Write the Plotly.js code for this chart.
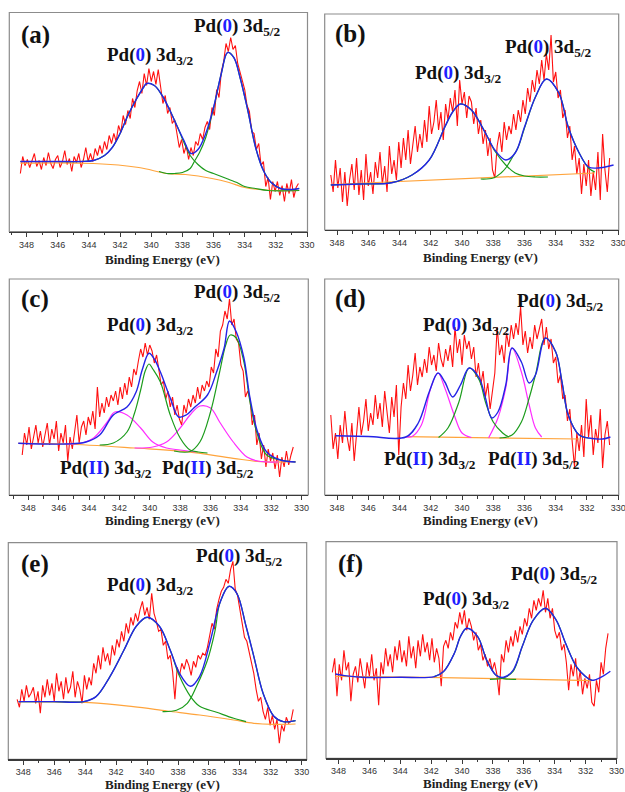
<!DOCTYPE html>
<html>
<head>
<meta charset="utf-8">
<script src="https://cdn.plot.ly/plotly-3.0.1.min.js"></script>
<style>html,body{margin:0;padding:0;background:#fff}#chart{width:625px;height:792px}</style>
</head>
<body>
<div id="chart"></div>
<script>
// ---- shared binding-energy grid of the measured spectra (eV) ----
const energy = [348.40,348.25,348.10,347.95,347.80,347.65,347.50,347.35,347.20,347.05,
346.90,346.75,346.60,346.45,346.30,346.15,346.00,345.85,345.70,345.55,
345.40,345.25,345.10,344.95,344.80,344.65,344.50,344.35,344.20,344.05,
343.90,343.75,343.60,343.45,343.30,343.15,343.00,342.85,342.70,342.55,
342.40,342.25,342.10,341.95,341.80,341.65,341.50,341.35,341.20,341.05,
340.90,340.75,340.60,340.45,340.30,340.15,340.00,339.85,339.70,339.55,
339.40,339.25,339.10,338.95,338.80,338.65,338.50,338.35,338.20,338.05,
337.90,337.75,337.60,337.45,337.30,337.15,337.00,336.85,336.70,336.55,
336.40,336.25,336.10,335.95,335.80,335.65,335.50,335.35,335.20,335.05,
334.90,334.75,334.60,334.45,334.30,334.15,334.00,333.85,333.70,333.55,
333.40,333.25,333.10,332.95,332.80,332.65,332.50,332.35,332.20,332.05,
331.90,331.75,331.60,331.45,331.30,331.15,331.00,330.85,330.70,330.55];

// ---- measured intensities (arb. units) ----
const aCounts = [58,75,66,72,64,70,78,65,71,62, 74,66,79,68,63,72,76,64,70,81, 67,73,60,75,69,78,64,72,84,70,
78,70,83,76,86,78,90,82,96,88, 98,90,106,99,116,107,121,113,133,124, 141,150,138,158,146,163,150,160,147,162,
142,128,136,118,124,108,112,96,84,92, 78,86,72,84,76,90,86,98,92,104, 110,102,124,116,142,134,160,170,188,180,
194,182,186,168,160,150,142,126,120,100, 98,82,88,66,70,45,54,32,50,40, 50,36,46,30,48,38,52,34,44,48];
const bCounts = [55,38,70,42,62,28,58,24,50,66, 40,72,35,60,30,76,44,58,36,68, 52,78,46,64,38,84,56,70,50,88,
62,92,70,100,66,86,104,78,96,82, 110,88,124,96,108,130,100,118,90,126, 110,132,118,140,104,150,126,138,112,134,
128,106,122,96,110,86,100,74,92,60, 52,84,98,78,108,90,104,96,116,100, 120,108,130,116,142,128,150,138,160,146,
170,150,176,160,195,148,158,132,140,112, 120,92,104,70,84,56,72,36,66,44, 70,34,58,40,78,30,96,60,38,72];
const cCounts = [40,62,50,68,46,58,70,52,64,48, 60,72,50,66,56,74,44,62,52,70, 34,58,46,66,80,52,68,74,60,78,
70,84,66,108,78,92,82,98,88,100, 94,104,90,108,96,112,100,118,108,126, 120,134,146,138,152,140,150,144,132,140,
124,110,114,96,104,88,98,80,90,76, 70,90,82,96,88,100,92,108,96,110, 104,114,108,128,122,146,138,164,170,184,
176,196,170,176,156,152,130,124,98,104, 96,70,80,50,62,36,50,28,46,34, 42,26,40,18,38,28,44,30,40,48];
const dCounts = [80,46,62,36,70,52,84,58,44,72, 34,66,88,60,74,96,64,82,70,100, 76,92,68,104,84,62,98,78,110,40,
88,112,96,130,104,120,142,110,128,118, 136,122,148,130,140,124,152,136,128,146, 134,150,128,168,142,156,130,160,146,154,
136,148,118,132,110,124,98,112,86,104, 122,168,140,150,132,162,148,170,156,172, 160,188,150,164,142,158,146,170,156,166,
176,150,168,146,156,132,138,112,120,96, 100,74,86,54,28,62,44,70,38,96, 58,80,40,66,52,86,27,60,74,50];
const eCounts = [60,52,70,58,74,62,66,72,56,68, 46,74,62,80,64,76,58,86,68,78, 60,82,66,72,88,62,78,70,56,84,
70,82,74,96,86,104,90,112,98,106, 94,114,104,120,112,128,118,136,126,142, 134,146,138,150,158,144,152,140,166,146,
138,128,130,114,118,100,104,88,60,92, 84,96,90,100,94,84,98,92,104,100, 106,104,112,124,136,130,150,160,168,172,
180,176,190,198,170,164,150,140,122,118, 108,98,86,70,58,62,48,40,52,34, 44,30,40,16,34,28,42,36,38,50];
const fCounts = [86,100,62,94,78,108,88,96,57,84, 92,76,100,84,70,96,82,104,78,90, 53,96,84,110,92,104,86,112,98,118,
96,108,92,122,100,112,90,118,102,124, 106,116,98,120,96,110,100,72,112,118, 110,126,118,136,130,146,134,148,128,140,
132,118,126,108,114,98,104,92,100,88, 96,84,63,104,96,118,106,122,112,128, 116,132,124,140,132,150,140,158,148,160,
152,168,146,160,140,150,128,120,126,108, 114,96,68,94,82,100,72,88,64,80, 70,84,56,52,78,66,96,84,110,125];

// ---- fitted curves: (a) ----
const aBaseX = [348.4,343.7,340.8,339.0,337.8,336.1,335.0,334.0,333.1,332.0,330.5];
const aBaseY = [68.3,68,64,58,57,53,49,44,42,41,41];
const aEnvX = [348.4,346,344.5,343.7,343,342.5,342,341.5,341,340.5,340.3,339.8,339.3,338.8,338.3,337.9,337.45,337,336.5,336,335.5,335.1,334.7,334.3,333.8,333.3,332.8,332.3,331.7,331,330.5];
const aEnvY = [70,70,70,71,76,84,98,116,131,144,148,146,136,121,104,91,78,82,98,124,158,179,174,154,121,84,61,49,43,42,43];
const aG1X = [348.4,346,344.5,343.7,343,342.5,342,341.5,341,340.5,340.3,339.8,339.3,338.8,338.3,337.9,337.5,337,336.5,336,335.5,335,334.5,334,333.3,332.5,330.5];
const aG1Y = [70,70,70,71,76,84,98,116,131,144,148,146,136,121,104,89,76,67,61,58,55,52,49,45,43,41,41];
const aG2X = [339.5,339,338.5,338,337.5,337.2,336.9,336.5,336.2,336,335.5,335.1,334.7,334.3,333.8,333.3,332.8,332.3,331.7,331,330.5];
const aG2Y = [60,58,58,59,63,71,79,94,111,123,158,179,174,154,121,84,61,49,43,42,43];

// ---- (b) ----
const bBaseX = [348.4,331.5];
const bBaseY = [45.5,57];
const bEnvX = [348.4,346.5,344.5,343.2,342.1,341.1,340.6,340.1,339.4,338.5,337.9,337.2,336.6,336,335.3,334.6,333.8,333.2,332.5,331.9,331.3,330.3];
const bEnvY = [45,46,47.3,55,70,103,118,126,120,97,80,70,77,103,133,151,137,103,77,63,62,65];
const bG1X = [348.4,346.5,344.5,343.2,342.1,341.1,340.6,340.1,339.4,338.5,337.9,337.2,336.6,336,335.3,334.5];
const bG1Y = [45,46,47.3,55,70,103,118,126,120,97,79,65,57,54,53,53];
const bG2X = [338.8,338,337.5,337.2,336.8,336.4,336,335.3,334.6,333.8,333.2,332.5,331.9,331.5];
const bG2Y = [51,52,57,62,72,83,102,133,151,137,103,77,62,58];

// ---- (c) ----
const cBaseX = [348.66,345.5,341,337.6,334.5,332.7,330.4];
const cBaseY = [51.7,51,47,43.3,36.7,33.3,33.3];
const cEnvX = [348.66,345.5,344.2,343.3,342.4,341.5,340.9,340.5,340.05,339.7,339.3,338.65,338.1,337.6,337.1,336.2,335.6,335.1,334.75,334.3,333.8,333.4,332.9,332.3,331.4,330.4];
const cEnvY = [51.7,51,53,60,80,88,103,125,141.7,136,123,97,78,80,87,100,123,147,174,163,137,97,63,43,35,33];
const cG1X = [343.3,342.4,341.5,341,340.6,340.3,340.05,339.8,339.3,338.65,338,337.35,336.8,336.2];
const cG1Y = [50,52,63,82,105,124,131,126,113,80,57,45,43,42];
const cG2X = [338.4,337.35,336.7,336,335.4,335,334.7,334.3,333.8,333.4,332.9,332.3,331.4,330.4];
const cG2Y = [44,43.5,53,83,123,150,160,157,133,93,60,40,35,33];
const cP1X = [345.5,344.5,343.7,342.8,342.3,341.5,340.6,339.8,338.9,338,337];
const cP1Y = [51,52,57,73,83,80,67,53,47,45,43];
const cP2X = [341,339.8,338.9,338,337.35,336.7,336,335.4,334.5,333.6,332.9,332.3,331.5];
const cP2Y = [47,48,53,67,80,89,87,73,53,38,34,33,33];

// ---- (d) ----
const dBaseX = [343.6,332.5];
const dBaseY = [58.3,56];
const dEnvX = [348.1,346,343.6,342.8,342.1,341.54,341.1,340.6,340.1,339.54,338.9,338.5,338.1,337.7,337.2,336.8,336.2,335.7,335.3,334.67,334,333.6,333.2,332.5,331.9,331,330.5];
const dEnvY = [59.3,58.5,58,72,103,122,113,98,110,127,117,97,77,83,110,147,133,112,120,157,143,113,80,60,57,56,58];
const dP1X = [343.6,343.2,342.6,342,341.54,341.1,340.5,340,339.4];
const dP1Y = [58.2,58.5,70,107,122,107,80,62,57.5];
const dG1X = [341.5,340.9,340.2,339.54,338.9,338.5,338,337.4,337];
const dG1Y = [57.5,67,93,127,115,93,73,62,58];
const dP2X = [338.3,337.7,337.2,336.8,336.2,335.7,335.3,334.9];
const dP2Y = [57,77,107,147,123,90,67,58];
const dG2X = [337.6,336.8,336.2,335.7,335.3,334.67,334,333.6,333.2,332.5,331.9];
const dG2Y = [57,60,73,97,120,157,143,113,80,60,57];

// ---- (e) ----
const eBaseX = [348.2,343.7,340.9,338.7,336.6,334.4,333.1,331.8,330.4];
const eBaseY = [57.7,56.7,52.7,48.3,44.3,39.3,36,35,35.3];
const eEnvX = [348.3,346,344.1,343.3,342.4,341.5,340.7,340,339.2,338.5,337.9,337.2,336.6,335.9,335.3,334.7,334.2,333.6,333.1,332.5,331.8,331.2,330.4];
const eEnvY = [57.7,57.7,57.7,62.7,82.7,109,133,142,133,109,86,73,83,119,156,173,166,133,103,66,43,37.7,38.7];
const eG1X = [348.3,346,344.1,343.3,342.4,341.5,340.7,340,339.2,338.5,337.9,337.2,336.6,335.5,334.4,333.6];
const eG1Y = [57.7,57.7,57.7,62.7,82.7,109,133,142,133,109,83,63,53,47,41,37.7];
const eG2X = [339,338.1,337.4,336.8,336.1,335.6,335.3,334.7,334.2,333.6,333.1,332.5,331.8,331.2,330.4];
const eG2Y = [47.7,49,56,73,99,129,156,173,166,133,103,66,43,37.7,38.7];

// ---- (f) ----
const fBaseX = [348.2,342.2,331.6];
const fBaseY = [82,81,77.7];
const fEnvX = [348.2,347.6,346.5,344,341.8,341.2,340.5,340.1,339.7,339,338.4,337.8,337.3,336.7,336.1,335.4,334.6,333.9,333.3,332.6,332,331.6,330.9,330.4];
const fEnvY = [84.3,82.7,81,81,81.7,86.7,105,122,130,122,98,83,81,88,112,138,150,138,115,91.7,81.7,78,82,87];
const fG1X = [341.8,341.2,340.5,340.1,339.7,339,338.4,337.8,337.3,336.5];
const fG1Y = [81.7,86.7,105,122,130,122,98,83,79.7,79];
const fG2X = [338.2,337.3,336.7,336.1,335.4,334.6,333.9,333.3,332.6,332,331.6];
const fG2Y = [79,80.5,87,112,138,150,138,115,91.7,81.7,78];

// ---- texts ----
const panelTags = ['(a)','(b)','(c)','(d)','(e)','(f)'];
const xTitle = 'Binding Energy (eV)';
const B0 = '<span style="color:#1f1fff">0</span>';
const BII = '<span style="color:#1f1fff">II</span>';
const lab0_32 = 'Pd(' + B0 + ') 3d<sub>3/2</sub>';
const lab0_52 = 'Pd(' + B0 + ') 3d<sub>5/2</sub>';
const labII_32 = 'Pd(' + BII + ') 3d<sub>3/2</sub>';
const labII_52 = 'Pd(' + BII + ') 3d<sub>5/2</sub>';

// ---- colours ----
const RED = '#ff1010', BLUE = '#2424e6', GREEN = '#1c9c1c', PINK = '#ff2cff', ORANGE = '#ffa43c';

// ---- panel geometry (pixels) ----
const W = 625, H = 792;
const panels = [
  {box:[9.3,307.5,12.5,231.5], xr:[349.11,329.97], red:aCounts,
   curves:[[aBaseX,aBaseY,ORANGE],[aG1X,aG1Y,GREEN],[aG2X,aG2Y,GREEN],[aEnvX,aEnvY,BLUE]],
   tag:[35,35], tx:[162,259],
   labs:[[lab0_32,150,56],[lab0_52,237,27]]},
  {box:[324.7,618.7,14,230], xr:[348.79,329.97], red:bCounts,
   curves:[[bBaseX,bBaseY,ORANGE],[bG1X,bG1Y,GREEN],[bG2X,bG2Y,GREEN],[bEnvX,bEnvY,BLUE]],
   tag:[350,34], tx:[480,258],
   labs:[[lab0_32,458,74],[lab0_52,548,48]]},
  {box:[9.3,308.3,279,495], xr:[349.25,329.56], red:cCounts,
   curves:[[cBaseX,cBaseY,ORANGE],[cP1X,cP1Y,PINK],[cP2X,cP2Y,PINK],[cG1X,cG1Y,GREEN],[cG2X,cG2Y,GREEN],[cEnvX,cEnvY,BLUE]],
   tag:[35,299], tx:[163,520],
   labs:[[lab0_32,150,326],[lab0_52,237,293],[labII_32,106,469],[labII_52,208,469]]},
  {box:[324.7,618.7,279,495], xr:[348.79,329.97], red:dCounts,
   curves:[[dBaseX,dBaseY,ORANGE],[dP1X,dP1Y,PINK],[dP2X,dP2Y,PINK],[dG1X,dG1Y,GREEN],[dG2X,dG2Y,GREEN],[dEnvX,dEnvY,BLUE]],
   tag:[350,299], tx:[481,520],
   labs:[[lab0_32,466,326],[lab0_52,560,302],[labII_32,430,460],[labII_52,534,460]]},
  {box:[8.3,306.7,542.7,759.3], xr:[348.97,329.68], red:eCounts,
   curves:[[eBaseX,eBaseY,ORANGE],[eG1X,eG1Y,GREEN],[eG2X,eG2Y,GREEN],[eEnvX,eEnvY,BLUE]],
   tag:[35,564], tx:[162,784],
   labs:[[lab0_32,150,586],[lab0_52,239,557]]},
  {box:[326,617,541.7,758.3], xr:[348.81,329.97], red:fCounts,
   curves:[[fBaseX,fBaseY,ORANGE],[fG1X,fG1Y,GREEN],[fG2X,fG2Y,GREEN],[fEnvX,fEnvY,BLUE]],
   tag:[350,564], tx:[480,783],
   labs:[[lab0_32,466,600],[lab0_52,554,575]]}
];

const px = v => v / W, py = v => 1 - v / H;
const serif = 'Liberation Serif, Times New Roman, serif';
const traces = [], annotations = [], shapes = [];
const layout = {
  width: W, height: H, margin: {l:0, r:0, t:0, b:0},
  paper_bgcolor: '#fff', plot_bgcolor: 'rgba(0,0,0,0)', showlegend: false
};

panels.forEach((p, i) => {
  const n = i === 0 ? '' : String(i + 1);
  const xa = 'x' + n, ya = 'y' + n;
  const [L, R, T, Bt] = p.box;
  layout['xaxis' + n] = {
    domain: [px(L), px(R)], range: p.xr, anchor: ya,
    showgrid: false, zeroline: false, showline: true, linecolor: '#3a3a3a', linewidth: 1.3,
    ticks: 'outside', ticklen: 4, tickwidth: 1, tickcolor: '#3a3a3a',
    tick0: 330, dtick: 2, ticklabeloverflow: 'allow',
    minor: {ticks: 'outside', ticklen: 2.5, tickwidth: 1, tickcolor: '#3a3a3a', dtick: 1, tick0: 330, showgrid: false},
    tickfont: {family: 'Liberation Sans Narrow, Arial Narrow, Liberation Sans, Arial', size: 9, color: '#333'},
    fixedrange: true
  };
  layout['yaxis' + n] = {
    domain: [py(Bt), py(T)], range: [0, Bt - T], anchor: xa,
    showgrid: false, zeroline: false, showline: false, showticklabels: false, ticks: '',
    fixedrange: true
  };
  shapes.push({type: 'rect', xref: xa + ' domain', yref: ya + ' domain', x0: 0, x1: 1, y0: 0, y1: 1,
    line: {color: '#8c8c8c', width: 1.2}, layer: 'below'});

  traces.push({type: 'scatter', mode: 'lines', x: energy, y: p.red, xaxis: xa, yaxis: ya,
    line: {color: RED, width: 1.1}, hoverinfo: 'skip'});
  p.curves.forEach(c => {
    traces.push({type: 'scatter', mode: 'lines', x: c[0], y: c[1], xaxis: xa, yaxis: ya,
      line: {color: c[2], width: c[2] === BLUE ? 1.4 : 1.2, shape: 'spline', smoothing: 1}, hoverinfo: 'skip'});
  });

  annotations.push({xref: 'paper', yref: 'paper', x: px(p.tag[0]), y: py(p.tag[1]), text: panelTags[i],
    showarrow: false, xanchor: 'center', yanchor: 'middle',
    font: {family: serif, size: 25, color: '#111', weight: 'bold'}});
  annotations.push({xref: 'paper', yref: 'paper', x: px(p.tx[0]), y: py(p.tx[1]), text: xTitle,
    showarrow: false, xanchor: 'center', yanchor: 'middle',
    font: {family: serif, size: 13, color: '#222', weight: 'bold'}});
  p.labs.forEach(l => {
    annotations.push({xref: 'paper', yref: 'paper', x: px(l[1]), y: py(l[2]), text: l[0],
      showarrow: false, xanchor: 'center', yanchor: 'middle',
      font: {family: serif, size: 19, color: '#111', weight: 'bold'}});
  });
});

layout.annotations = annotations;
layout.shapes = shapes;
Plotly.newPlot('chart', traces, layout, {displayModeBar: false, staticPlot: true});
</script>
</body>
</html>
